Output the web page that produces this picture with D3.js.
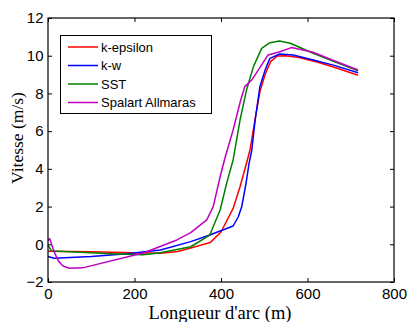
<!DOCTYPE html>
<html><head><meta charset="utf-8">
<script src="https://cdn.jsdelivr.net/npm/d3@7"></script>
<style>body{margin:0;background:#fff}svg{display:block}</style>
</head><body>
<svg id="c" width="407" height="322"></svg>
<script>
const seriesNames = ["k-epsilon", "k-w", "SST", "Spalart Allmaras"];
const seriesColors = ["#ff0000", "#0000ff", "#008000", "#bf00bf"];
const kEpsX = [0,100,200,260,300,330,375,400,428,444,459,467,480,490,502,515,530,550,580,620,660,717];
const kEpsY = [-0.37,-0.4,-0.45,-0.48,-0.38,-0.2,0.09,0.65,1.9,3.05,4.3,5.0,6.8,8.1,9.0,9.7,9.98,10.0,9.9,9.68,9.4,8.96];
const kWX = [0,14,100,183,260,330,374,428,440,448,458,465,471,479,490,502,513,536,567,613,660,717];
const kWY = [-0.65,-0.74,-0.65,-0.5,-0.3,0.14,0.49,0.97,1.46,2.0,3.25,4.3,4.96,6.59,8.36,9.24,9.86,10.09,10.04,9.77,9.5,9.1];
const sstX = [0,8,50,145,220,260,330,374,398,413,428,444,459,475,494,513,535,560,613,660,717];
const sstY = [-0.05,-0.35,-0.4,-0.5,-0.55,-0.45,-0.13,0.49,1.82,3.23,4.47,6.59,8.18,9.42,10.39,10.69,10.78,10.66,10.13,9.7,9.2];
const saX = [0,4,14,25,35,49,80,222,298,330,367,382,398,409,428,445,455,471,509,536,563,613,660,717];
const saY = [0.2,0.3,-0.39,-0.92,-1.15,-1.27,-1.25,-0.45,0.23,0.62,1.29,2.0,3.58,4.56,6.06,7.6,8.36,8.71,10.04,10.21,10.43,10.18,9.75,9.24];
const xTicks = [0,200,400,600,800];
const yTicks = [-2,0,2,4,6,8,10,12];

const allX = [kEpsX, kWX, sstX, saX];
const allY = [kEpsY, kWY, sstY, saY];

const svg = d3.select("#c");
const L = 48, R = 394, T = 18, B = 282;
const x = d3.scaleLinear().domain([0,800]).range([L,R]);
const y = d3.scaleLinear().domain([-2,12]).range([B,T]);
const tickFont = "'Liberation Sans', Arial, sans-serif";
const serif = "'Liberation Serif', 'Times New Roman', serif";

// axes
const gx = svg.append("g").attr("transform",`translate(0,${B})`)
  .call(d3.axisBottom(x).tickValues(xTicks).tickSizeInner(-4).tickSizeOuter(0).tickPadding(6));
const gxt = svg.append("g").attr("transform",`translate(0,${T})`)
  .call(d3.axisTop(x).tickValues(xTicks).tickSizeInner(-4).tickSizeOuter(0).tickFormat(""));
const gy = svg.append("g").attr("transform",`translate(${L},0)`)
  .call(d3.axisLeft(y).tickValues(yTicks).tickSizeInner(-4).tickSizeOuter(0).tickPadding(4.5));
const gyr = svg.append("g").attr("transform",`translate(${R},0)`)
  .call(d3.axisRight(y).tickValues(yTicks).tickSizeInner(-4).tickSizeOuter(0).tickFormat(""));
[gx,gxt,gy,gyr].forEach(g=>{
  g.select(".domain").remove();
  g.selectAll(".tick line").attr("stroke","#000").attr("stroke-width",1);
  g.selectAll("text").attr("font-family",tickFont).attr("font-size",15).attr("fill","#000");
});

// lines
const line = d3.line().x(d=>x(d[0])).y(d=>y(d[1]));
allX.forEach((xs,i)=>{
  const pts = xs.map((v,j)=>[v, allY[i][j]]);
  svg.append("path").datum(pts).attr("d",line).attr("fill","none")
    .attr("stroke",seriesColors[i]).attr("stroke-width",1.5).attr("stroke-linejoin","round");
});

// box
svg.append("rect").attr("x",L).attr("y",T).attr("width",R-L).attr("height",B-T)
  .attr("fill","none").attr("stroke","#000").attr("stroke-width",1.2);

// legend
const lg = svg.append("g");
lg.append("rect").attr("x",60.5).attr("y",35.5).attr("width",151).attr("height",78)
  .attr("fill","#fff").attr("stroke","#000").attr("stroke-width",1);
seriesNames.forEach((n,i)=>{
  const yy = 47 + i*18.5;
  lg.append("line").attr("x1",68).attr("x2",98).attr("y1",yy).attr("y2",yy)
    .attr("stroke",seriesColors[i]).attr("stroke-width",1.5);
  lg.append("text").attr("x",101).attr("y",yy+4.5).text(n)
    .attr("font-family",tickFont).attr("font-size",13).attr("fill","#000");
});

// titles
svg.append("text").attr("x",220).attr("y",319).attr("text-anchor","middle")
  .attr("font-family",serif).attr("font-size",18.5)
  .text("Longueur d'arc (m)");
svg.append("text").attr("transform",`translate(23,138) rotate(-90)`).attr("text-anchor","middle")
  .attr("font-family",serif).attr("font-size",17.5)
  .text("Vitesse (m/s)");
</script>
</body></html>
